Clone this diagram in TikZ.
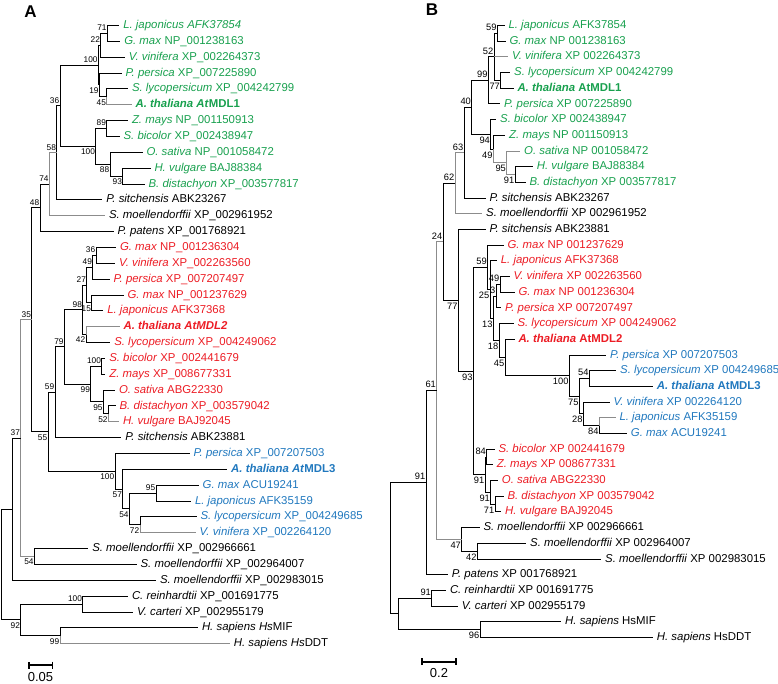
\documentclass[tikz,border=0pt]{standalone}
\usepackage{fontspec}
\setmainfont{Liberation Sans}
\usepackage{tikz}
\usetikzlibrary{arrows.meta}
\definecolor{mgreen}{RGB}{24,160,78}
\definecolor{mred}{RGB}{236,28,36}
\definecolor{mblue}{RGB}{32,120,190}
\definecolor{mgrey}{RGB}{140,140,140}

\begin{document}
\begin{tikzpicture}[x=1pt, y=-1pt,
  br/.style={line width=0.9pt},
  gbr/.style={br, draw=mgrey},
  lf/.style={anchor=west, inner xsep=3.8pt, inner ysep=0pt, text height=8.4pt, text depth=2.2pt, font=\fontsize{11.4}{13}\selectfont},
  bsv/.style={inner sep=0.6pt, font=\fontsize{8.3}{10}\selectfont},
  bs/.style={bsv, anchor=south east, yshift=1.8pt},
  bsb/.style={bsv, anchor=north east, yshift=-1.8pt},
  sbar/.style={line width=1.8pt, {Bar[width=7pt]}-{Bar[width=7pt]}},
  sbtext/.style={inner sep=0pt, font=\fontsize{13}{15}\selectfont},
  panel/.style={font=\fontsize{17}{20}\selectfont\bfseries}]
  \useasboundingbox (0,0) rectangle (778,684);

  \node[panel] (pA) at (30.5,12) {A};
  \node[panel] (pB) at (432,10) {B};

  % tree A
  \begin{scope}[y=-15.85pt, yshift=-9.65pt]
  \node[lf, mgreen] (ta1) at (119.3,1) {\textit{L. japonicus AFK37854}};
  \node[lf, mgreen] (ta2) at (120.3,2) {\textit{G. max} NP\_001238163};
  \node[lf, mgreen] (ta3) at (124.8,3) {\textit{V. vinifera} XP\_002264373};
  \node[lf, mgreen] (ta4) at (121.6,4) {\textit{P. persica} XP\_007225890};
  \node[lf, mgreen] (ta5) at (128,5) {\textit{S. lycopersicum} XP\_004242799};
  \node[lf, mgreen] (ta6) at (131.6,6) {\textbf{\textit{A. thaliana At}MDL1}};
  \node[lf, mgreen] (ta7) at (128,7) {\textit{Z. mays} NP\_001150913};
  \node[lf, mgreen] (ta8) at (119.6,8) {\textit{S. bicolor} XP\_002438947};
  \node[lf, mgreen] (ta9) at (142.5,9) {\textit{O. sativa} NP\_001058472};
  \node[lf, mgreen] (ta10) at (150.5,10) {\textit{H. vulgare} BAJ88384};
  \node[lf, mgreen] (ta11) at (144.6,11) {\textit{B. distachyon} XP\_003577817};
  \node[lf] (ta12) at (102.3,12) {\textit{P. sitchensis} ABK23267};
  \node[lf] (ta13) at (105,13) {\textit{S. moellendorffii} XP\_002961952};
  \node[lf] (ta14) at (113.6,14) {\textit{P. patens} XP\_001768921};
  \node[lf, mred] (ta15) at (116,15) {\textit{G. max} NP\_001236304};
  \node[lf, mred] (ta16) at (115,16) {\textit{V. vinifera} XP\_002263560};
  \node[lf, mred] (ta17) at (109.6,17) {\textit{P. persica} XP\_007207497};
  \node[lf, mred] (ta18) at (123.6,18) {\textit{G. max} NP\_001237629};
  \node[lf, mred] (ta19) at (103.3,19) {\textit{L. japonicus} AFK37368};
  \node[lf, mred] (ta20) at (119.6,20) {\textbf{\textit{A. thaliana AtMDL2}}};
  \node[lf, mred] (ta21) at (110.3,21) {\textit{S. lycopersicum} XP\_004249062};
  \node[lf, mred] (ta22) at (105.3,22) {\textit{S. bicolor} XP\_002441679};
  \node[lf, mred] (ta23) at (105.3,23) {\textit{Z. mays} XP\_008677331};
  \node[lf, mred] (ta24) at (115,24) {\textit{O. sativa} ABG22330};
  \node[lf, mred] (ta25) at (115.6,25) {\textit{B. distachyon} XP\_003579042};
  \node[lf, mred] (ta26) at (119,26) {\textit{H. vulgare} BAJ92045};
  \node[lf] (ta27) at (121.3,27) {\textit{P. sitchensis} ABK23881};
  \node[lf, mblue] (ta28) at (189.6,28) {\textit{P. persica} XP\_007207503};
  \node[lf, mblue] (ta29) at (227.2,29) {\textbf{\textit{A. thaliana At}MDL3}};
  \node[lf, mblue] (ta30) at (198.7,30) {\textit{G. max} ACU19241};
  \node[lf, mblue] (ta31) at (191,31) {\textit{L. japonicus} AFK35159};
  \node[lf, mblue] (ta32) at (196.5,32) {\textit{S. lycopersicum} XP\_004249685};
  \node[lf, mblue] (ta33) at (195.7,33) {\textit{V. vinifera} XP\_002264120};
  \node[lf] (ta34) at (88.3,34) {\textit{S. moellendorffii} XP\_002966661};
  \node[lf] (ta35) at (136.6,35) {\textit{S. moellendorffii} XP\_002964007};
  \node[lf] (ta36) at (156,36) {\textit{S. moellendorffii} XP\_002983015};
  \node[lf] (ta37) at (128,37) {\textit{C. reinhardtii} XP\_001691775};
  \node[lf] (ta38) at (133,38) {\textit{V. carteri} XP\_002955179};
  \node[lf] (ta39) at (198,39) {\textit{H. sapiens Hs}MIF};
  \node[lf] (ta40) at (229.8,40) {\textit{H. sapiens Hs}DDT};

  \coordinate (a71) at (107.3,1.5);
  \coordinate (a22) at (100.7,2.25);
  \coordinate (a45) at (106.7,5.5);
  \coordinate (a19) at (99.3,4.75);
  \coordinate (a100g) at (98.3,3.5);
  \coordinate (a89) at (106.7,7.5);
  \coordinate (a93) at (122.7,10.5);
  \coordinate (a88) at (110,9.75);
  \coordinate (a100m) at (95.7,8.625);
  \coordinate (a36) at (60,6.0625);
  \coordinate (a58) at (56.7,9.03);
  \coordinate (a74) at (49.3,11.02);
  \coordinate (a48) at (40,12.51);
  \coordinate (a36r) at (96,15.5);
  \coordinate (a49) at (92.7,16.25);
  \coordinate (a15) at (91.7,18.5);
  \coordinate (a27) at (86.7,17.375);
  \coordinate (a42) at (86,20.5);
  \coordinate (a98) at (82.7,18.94);
  \coordinate (a100r) at (101.7,22.5);
  \coordinate (a52) at (108.3,25.5);
  \coordinate (a95r) at (103.3,24.75);
  \coordinate (a99) at (90.7,23.625);
  \coordinate (a79) at (64.3,21.28);
  \coordinate (a59) at (55,24.14);
  \coordinate (a95b) at (156,30.5);
  \coordinate (a72) at (140,32.5);
  \coordinate (a54) at (129.3,31.5);
  \coordinate (a57) at (122.7,30.25);
  \coordinate (a100b) at (115,29.125);
  \coordinate (a55) at (48,26.63);
  \coordinate (a35) at (31.7,19.57);
  \coordinate (a54s) at (34.3,34.5);
  \coordinate (a37) at (20.7,27.04);
  \coordinate (aR) at (12.7,31.52);
  \coordinate (a100o) at (82.7,37.5);
  \coordinate (a99o) at (60,39.5);
  \coordinate (a92) at (20.7,38.5);
  \coordinate (aroot) at (1,35.01);

  \draw[br] (a71) |- (ta1.west);
  \draw[br] (a71) |- (ta2.west);
  \draw[br] (a22) |- (a71);
  \draw[br] (a22) |- (ta3.west);
  \draw[br] (a45) |- (ta5.west);
  \draw[gbr] (a45) |- (ta6.west);
  \draw[br] (a19) |- (ta4.west);
  \draw[br] (a19) |- (a45);
  \draw[br] (a100g) |- (a22);
  \draw[br] (a100g) |- (a19);
  \draw[br] (a89) |- (ta7.west);
  \draw[br] (a89) |- (ta8.west);
  \draw[br] (a93) |- (ta10.west);
  \draw[br] (a93) |- (ta11.west);
  \draw[br] (a88) |- (ta9.west);
  \draw[br] (a88) |- (a93);
  \draw[br] (a100m) |- (a89);
  \draw[br] (a100m) |- (a88);
  \draw[br] (a36) |- (a100g);
  \draw[br] (a36) |- (a100m);
  \draw[br] (a58) |- (a36);
  \draw[br] (a58) |- (ta12.west);
  \draw[gbr] (a74) |- (a58);
  \draw[gbr] (a74) |- (ta13.west);
  \draw[br] (a48) |- (a74);
  \draw[br] (a48) |- (ta14.west);
  \draw[br] (a36r) |- (ta15.west);
  \draw[br] (a36r) |- (ta16.west);
  \draw[br] (a49) |- (a36r);
  \draw[br] (a49) |- (ta17.west);
  \draw[br] (a15) |- (ta18.west);
  \draw[br] (a15) |- (ta19.west);
  \draw[br] (a27) |- (a49);
  \draw[br] (a27) |- (a15);
  \draw[gbr] (a42) |- (ta20.west);
  \draw[br] (a42) |- (ta21.west);
  \draw[br] (a98) |- (a27);
  \draw[br] (a98) |- (a42);
  \draw[br] (a100r) |- (ta22.west);
  \draw[br] (a100r) |- (ta23.west);
  \draw[br] (a52) |- (ta25.west);
  \draw[gbr] (a52) |- (ta26.west);
  \draw[br] (a95r) |- (ta24.west);
  \draw[br] (a95r) |- (a52);
  \draw[br] (a99) |- (a100r);
  \draw[br] (a99) |- (a95r);
  \draw[br] (a79) |- (a98);
  \draw[br] (a79) |- (a99);
  \draw[br] (a59) |- (a79);
  \draw[br] (a59) |- (ta27.west);
  \draw[br] (a95b) |- (ta30.west);
  \draw[br] (a95b) |- (ta31.west);
  \draw[br] (a72) |- (ta32.west);
  \draw[gbr] (a72) |- (ta33.west);
  \draw[br] (a54) |- (a95b);
  \draw[br] (a54) |- (a72);
  \draw[br] (a57) |- (ta29.west);
  \draw[br] (a57) |- (a54);
  \draw[br] (a100b) |- (ta28.west);
  \draw[br] (a100b) |- (a57);
  \draw[br] (a55) |- (a59);
  \draw[br] (a55) |- (a100b);
  \draw[br] (a35) |- (a48);
  \draw[br] (a35) |- (a55);
  \draw[br] (a54s) |- (ta34.west);
  \draw[br] (a54s) |- (ta35.west);
  \draw[gbr] (a37) |- (a35);
  \draw[gbr] (a37) |- (a54s);
  \draw[br] (aR) |- (a37);
  \draw[br] (aR) |- (ta36.west);
  \draw[br] (a100o) |- (ta37.west);
  \draw[br] (a100o) |- (ta38.west);
  \draw[br] (a99o) |- (ta39.west);
  \draw[gbr] (a99o) |- (ta40.west);
  \draw[br] (a92) |- (a100o);
  \draw[br] (a92) |- (a99o);
  \draw[br] (aroot) |- (aR);
  \draw[br] (aroot) |- (a92);

  \node[bs] (a71l) at (a71) {71};
  \node[bs] (a22l) at (a22) {22};
  \node[bs] (a100gl) at (a100g) {100};
  \node[bsb] (a19l) at (a19) {19};
  \node[bsb] (a45l) at (a45) {45};
  \node[bs] (a89l) at (a89) {89};
  \node[bsb] (a100ml) at (a100m) {100};
  \node[bsb] (a88l) at (a88) {88};
  \node[bsb] (a93l) at (a93) {93};
  \node[bs] (a36l) at (a36) {36};
  \node[bs] (a58l) at (a58) {58};
  \node[bs] (a74l) at (a74) {74};
  \node[bs] (a48l) at (a48) {48};
  \node[bs] (a36rl) at (a36r) {36};
  \node[bs] (a49l) at (a49) {49};
  \node[bs] (a27l) at (a27) {27};
  \node[bsb] (a15l) at (a15) {15};
  \node[bs] (a98l) at (a98) {98};
  \node[bsb] (a42l) at (a42) {42};
  \node[bs] (a79l) at (a79) {79};
  \node[bs] (a100rl) at (a100r) {100};
  \node[bsb] (a99l) at (a99) {99};
  \node[bsb] (a95rl) at (a95r) {95};
  \node[bsb] (a52l) at (a52) {52};
  \node[bs] (a59l) at (a59) {59};
  \node[bsb] (a55l) at (a55) {55};
  \node[bs] (a35l) at (a35) {35};
  \node[bs] (a37l) at (a37) {37};
  \node[bsb] (a100bl) at (a100b) {100};
  \node[bsb] (a57l) at (a57) {57};
  \node[bs] (a95bl) at (a95b) {95};
  \node[bsb] (a54l) at (a54) {54};
  \node[bsb] (a72l) at (a72) {72};
  \node[bsb] (a54sl) at (a54s) {54};
  \node[bs] (a100ol) at (a100o) {100};
  \node[bsb] (a92l) at (a92) {92};
  \node[bsb] (a99ol) at (a99o) {99};
  \end{scope}

  % tree B
  \begin{scope}[y=-15.69pt, yshift=-9.81pt, bsv/.append style={font=\fontsize{9.3}{11}\selectfont}]
  \node[lf, mgreen] (tb1) at (504.5,1) {\textit{L. japonicus} AFK37854};
  \node[lf, mgreen] (tb2) at (505.5,2) {\textit{G. max} NP 001238163};
  \node[lf, mgreen] (tb3) at (508,3) {\textit{V. vinifera} XP 002264373};
  \node[lf, mgreen] (tb4) at (510.2,4) {\textit{S. lycopersicum} XP 004242799};
  \node[lf, mgreen] (tb5) at (513.5,5) {\textbf{\textit{A. thaliana} AtMDL1}};
  \node[lf, mgreen] (tb6) at (500.2,6) {\textit{P. persica} XP 007225890};
  \node[lf, mgreen] (tb7) at (496.2,7) {\textit{S. bicolor} XP 002438947};
  \node[lf, mgreen] (tb8) at (505.2,8) {\textit{Z. mays} NP 001150913};
  \node[lf, mgreen] (tb9) at (520.2,9) {\textit{O. sativa} NP 001058472};
  \node[lf, mgreen] (tb10) at (532.9,10) {\textit{H. vulgare} BAJ88384};
  \node[lf, mgreen] (tb11) at (525.5,11) {\textit{B. distachyon} XP 003577817};
  \node[lf] (tb12) at (485.5,12) {\textit{P. sitchensis} ABK23267};
  \node[lf] (tb13) at (482.2,13) {\textit{S. moellendorffii} XP 002961952};
  \node[lf] (tb14) at (485.5,14) {\textit{P. sitchensis} ABK23881};
  \node[lf, mred] (tb15) at (503.5,15) {\textit{G. max} NP 001237629};
  \node[lf, mred] (tb16) at (496.9,16) {\textit{L. japonicus} AFK37368};
  \node[lf, mred] (tb17) at (509.5,17) {\textit{V. vinifera} XP 002263560};
  \node[lf, mred] (tb18) at (514.5,18) {\textit{G. max} NP 001236304};
  \node[lf, mred] (tb19) at (501.2,19) {\textit{P. persica} XP 007207497};
  \node[lf, mred] (tb20) at (513.5,20) {\textit{S. lycopersicum} XP 004249062};
  \node[lf, mred] (tb21) at (514.5,21) {\textbf{\textit{A. thaliana} AtMDL2}};
  \node[lf, mblue] (tb22) at (606.2,22) {\textit{P. persica} XP 007207503};
  \node[lf, mblue] (tb23) at (616.2,23) {\textit{S. lycopersicum} XP 004249685};
  \node[lf, mblue] (tb24) at (652.9,24) {\textbf{\textit{A. thaliana} AtMDL3}};
  \node[lf, mblue] (tb25) at (609.5,25) {\textit{V. vinifera} XP 002264120};
  \node[lf, mblue] (tb26) at (615.5,26) {\textit{L. japonicus} AFK35159};
  \node[lf, mblue] (tb27) at (626.9,27) {\textit{G. max} ACU19241};
  \node[lf, mred] (tb28) at (494.5,28) {\textit{S. bicolor} XP 002441679};
  \node[lf, mred] (tb29) at (492.9,29) {\textit{Z. mays} XP 008677331};
  \node[lf, mred] (tb30) at (497.9,30) {\textit{O. sativa} ABG22330};
  \node[lf, mred] (tb31) at (503.5,31) {\textit{B. distachyon} XP 003579042};
  \node[lf, mred] (tb32) at (501.2,32) {\textit{H. vulgare} BAJ92045};
  \node[lf] (tb33) at (479.5,33) {\textit{S. moellendorffii} XP 002966661};
  \node[lf] (tb34) at (526.2,34) {\textit{S. moellendorffii} XP 002964007};
  \node[lf] (tb35) at (601.2,35) {\textit{S. moellendorffii} XP 002983015};
  \node[lf] (tb36) at (447.9,36) {\textit{P. patens} XP 001768921};
  \node[lf] (tb37) at (446,37) {\textit{C. reinhardtii} XP 001691775};
  \node[lf] (tb38) at (457.9,38) {\textit{V. carteri} XP 002955179};
  \node[lf] (tb39) at (561.2,39) {\textit{H. sapiens} HsMIF};
  \node[lf] (tb40) at (652.9,40) {\textit{H. sapiens} HsDDT};

  \coordinate (b59) at (497.3,1.5);
  \coordinate (b77) at (500.7,4.5);
  \coordinate (b52) at (494,3);
  \coordinate (b99) at (488.3,4.5);
  \coordinate (b91g) at (515,10.5);
  \coordinate (b95) at (506.7,9.75);
  \coordinate (b49) at (493.3,8.875);
  \coordinate (b94) at (490.7,7.94);
  \coordinate (b40) at (471.7,6.22);
  \coordinate (b63) at (464,9.11);
  \coordinate (b62) at (455,11.05);
  \coordinate (b49r) at (500,17.5);
  \coordinate (b3) at (496,18.25);
  \coordinate (b54) at (589.3,23.5);
  \coordinate (b84) at (599.3,26.5);
  \coordinate (b28) at (583.3,25.75);
  \coordinate (b75) at (579.3,24.625);
  \coordinate (b100) at (569.3,23.31);
  \coordinate (b45) at (505,22.16);
  \coordinate (b18) at (499,21.08);
  \coordinate (b13) at (493.3,19.66);
  \coordinate (b25) at (490,17.83);
  \coordinate (b59r) at (487.5,16.42);
  \coordinate (b84r) at (486.7,28.5);
  \coordinate (b71) at (495,31.5);
  \coordinate (b91b) at (490.7,30.75);
  \coordinate (b91r) at (485,29.625);
  \coordinate (b93) at (473.3,23.02);
  \coordinate (b77r) at (458.3,18.51);
  \coordinate (b24) at (443,14.78);
  \coordinate (b42) at (477.3,34.5);
  \coordinate (b47) at (461.7,33.75);
  \coordinate (b61) at (436.7,24.27);
  \coordinate (b91p) at (426,30.13);
  \coordinate (b91c) at (431.7,37.5);
  \coordinate (b96) at (480,39.5);
  \coordinate (bout) at (398.3,38.5);
  \coordinate (broot) at (390.5,34.32);

  \draw[br] (b59) |- (tb1.west);
  \draw[br] (b59) |- (tb2.west);
  \draw[br] (b77) |- (tb4.west);
  \draw[br] (b77) |- (tb5.west);
  \draw[br] (b52) |- (b59);
  \draw[gbr] (b52) |- (tb3.west);
  \draw[br] (b52) |- (b77);
  \draw[br] (b99) |- (b52);
  \draw[br] (b99) |- (tb6.west);
  \draw[br] (b91g) |- (tb10.west);
  \draw[br] (b91g) |- (tb11.west);
  \draw[gbr] (b95) |- (tb9.west);
  \draw[gbr] (b95) |- (b91g);
  \draw[br] (b49) |- (tb8.west);
  \draw[gbr] (b49) |- (b95);
  \draw[br] (b94) |- (tb7.west);
  \draw[br] (b94) |- (b49);
  \draw[br] (b40) |- (b99);
  \draw[br] (b40) |- (b94);
  \draw[br] (b63) |- (b40);
  \draw[br] (b63) |- (tb12.west);
  \draw[gbr] (b62) |- (b63);
  \draw[gbr] (b62) |- (tb13.west);
  \draw[br] (b49r) |- (tb17.west);
  \draw[br] (b49r) |- (tb18.west);
  \draw[br] (b3) |- (b49r);
  \draw[br] (b3) |- (tb19.west);
  \draw[br] (b54) |- (tb23.west);
  \draw[br] (b54) |- (tb24.west);
  \draw[gbr] (b84) |- (tb26.west);
  \draw[br] (b84) |- (tb27.west);
  \draw[br] (b28) |- (tb25.west);
  \draw[br] (b28) |- (b84);
  \draw[br] (b75) |- (b54);
  \draw[br] (b75) |- (b28);
  \draw[br] (b100) |- (tb22.west);
  \draw[br] (b100) |- (b75);
  \draw[br] (b45) |- (tb21.west);
  \draw[br] (b45) |- (b100);
  \draw[br] (b18) |- (tb20.west);
  \draw[br] (b18) |- (b45);
  \draw[br] (b13) |- (b3);
  \draw[br] (b13) |- (b18);
  \draw[br] (b25) |- (tb16.west);
  \draw[br] (b25) |- (b13);
  \draw[br] (b59r) |- (tb15.west);
  \draw[br] (b59r) |- (b25);
  \draw[br] (b84r) |- (tb28.west);
  \draw[br] (b84r) |- (tb29.west);
  \draw[br] (b71) |- (tb31.west);
  \draw[br] (b71) |- (tb32.west);
  \draw[br] (b91b) |- (tb30.west);
  \draw[br] (b91b) |- (b71);
  \draw[br] (b91r) |- (b84r);
  \draw[br] (b91r) |- (b91b);
  \draw[br] (b93) |- (b59r);
  \draw[br] (b93) |- (b91r);
  \draw[br] (b77r) |- (tb14.west);
  \draw[br] (b77r) |- (b93);
  \draw[br] (b24) |- (b62);
  \draw[br] (b24) |- (b77r);
  \draw[br] (b42) |- (tb34.west);
  \draw[br] (b42) |- (tb35.west);
  \draw[br] (b47) |- (tb33.west);
  \draw[br] (b47) |- (b42);
  \draw[gbr] (b61) |- (b24);
  \draw[gbr] (b61) |- (b47);
  \draw[br] (b91p) |- (b61);
  \draw[br] (b91p) |- (tb36.west);
  \draw[br] (b91c) |- (tb37.west);
  \draw[br] (b91c) |- (tb38.west);
  \draw[br] (b96) |- (tb39.west);
  \draw[br] (b96) |- (tb40.west);
  \draw[br] (bout) |- (b91c);
  \draw[br] (bout) |- (b96);
  \draw[br] (broot) |- (b91p);
  \draw[br] (broot) |- (bout);

  \node[bs] (b59l) at (b59) {59};
  \node[bs] (b52l) at (b52) {52};
  \node[bsb] (b77l) at (b77) {77};
  \node[bs] (b99l) at (b99) {99};
  \node[bsb] (b94l) at (b94) {94};
  \node[bsb] (b49l) at (b49) {49};
  \node[bsb] (b95l) at (b95) {95};
  \node[bsb] (b91gl) at (b91g) {91};
  \node[bs] (b40l) at (b40) {40};
  \node[bs] (b63l) at (b63) {63};
  \node[bs] (b62l) at (b62) {62};
  \node[bs] (b24l) at (b24) {24};
  \node[bsb] (b77rl) at (b77r) {77};
  \node[bs] (b59rl) at (b59r) {59};
  \node[bs] (b49rl) at (b49r) {49};
  \node[bs] (b3l) at (b3) {3};
  \node[bsb] (b25l) at (b25) {25};
  \node[bsb] (b13l) at (b13) {13};
  \node[bsb] (b18l) at (b18) {18};
  \node[bsb] (b45l) at (b45) {45};
  \node[bsb] (b100l) at (b100) {100};
  \node[bs] (b54l) at (b54) {54};
  \node[bsb] (b75l) at (b75) {75};
  \node[bsb] (b28l) at (b28) {28};
  \node[bsb] (b84l) at (b84) {84};
  \node[bsb] (b93l) at (b93) {93};
  \node[bs] (b84rl) at (b84r) {84};
  \node[bsb] (b91rl) at (b91r) {91};
  \node[bsb] (b91bl) at (b91b) {91};
  \node[bsb] (b71l) at (b71) {71};
  \node[bsb] (b47l) at (b47) {47};
  \node[bsb] (b42l) at (b42) {42};
  \node[bs] (b61l) at (b61) {61};
  \node[bs] (b91pl) at (b91p) {91};
  \node[bs] (b91cl) at (b91c) {91};
  \node[bsb] (b96l) at (b96) {96};
  \end{scope}

  \coordinate (sa1) at (27.7,665.2);
  \coordinate (sa2) at (53.3,665.2);
  \draw[sbar] (sa1) -- (sa2);
  \node[sbtext] (sal) at (40.5,677.5) {0.05};
  \coordinate (sb1) at (420.7,661.7);
  \coordinate (sb2) at (456.7,661.7);
  \draw[sbar] (sb1) -- (sb2);
  \node[sbtext] (sbl) at (439,673.5) {0.2};
\end{tikzpicture}
\end{document}
